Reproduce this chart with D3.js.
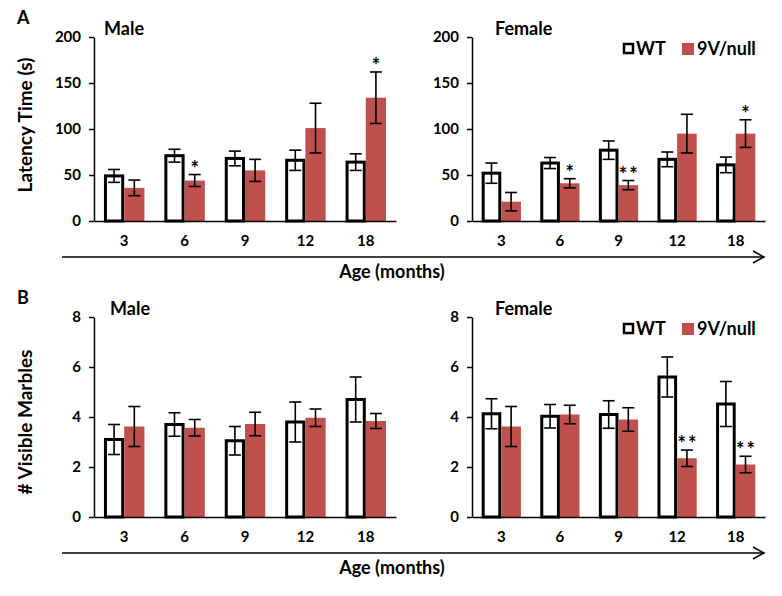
<!DOCTYPE html>
<html>
<head>
<meta charset="utf-8">
<script src="https://cdn.jsdelivr.net/npm/d3@7/dist/d3.min.js"></script>
<style>
  body { margin: 0; background: #fff; }
  text { font-family: Lato, "Open Sans", sans-serif; font-weight: bold; fill: #000; }
</style>
</head>
<body>
<svg id="chart" width="782" height="596"></svg>
<script>
// data
const ages = ['3', '6', '9', '12', '18'];

const latencyMaleWT = [49, 71, 68, 66, 64];
const latencyMaleWTErr = [7, 7, 8, 11, 9];
const latencyMaleMut = [36, 44, 55, 101, 134];
const latencyMaleMutErr = [8.5, 6.5, 12, 27, 28];
const latencyMaleSig = ['', '*', '', '', '*'];

const latencyFemaleWT = [52, 63, 77, 67, 61];
const latencyFemaleWTErr = [11, 6, 10, 8, 8.5];
const latencyFemaleMut = [21, 41, 39, 95, 95];
const latencyFemaleMutErr = [10, 5, 5, 21, 15];
const latencyFemaleSig = ['', '*', '**', '', '*'];

const marblesMaleWT = [3.1, 3.7, 3.05, 3.8, 4.7];
const marblesMaleWTErr = [0.6, 0.47, 0.57, 0.8, 0.9];
const marblesMaleMut = [3.62, 3.57, 3.72, 3.97, 3.84];
const marblesMaleMutErr = [0.8, 0.33, 0.47, 0.35, 0.3];
const marblesMaleSig = ['', '', '', '', ''];

const marblesFemaleWT = [4.13, 4.03, 4.1, 5.6, 4.52];
const marblesFemaleWTErr = [0.6, 0.47, 0.55, 0.8, 0.9];
const marblesFemaleMut = [3.62, 4.1, 3.9, 2.35, 2.1];
const marblesFemaleMutErr = [0.8, 0.37, 0.47, 0.33, 0.33];
const marblesFemaleSig = ['', '', '', '**', '**'];

const latencyTicks = [0, 50, 100, 150, 200];
const marblesTicks = [0, 2, 4, 6, 8];
const series = ['WT', '9V/null'];

const red = '#c0504d';
const svg = d3.select('#chart');

function drawPanel(o) {
    const g = svg.append('g');
    const x0 = d3.scaleBand().domain(ages).range([o.x0, o.x1])
        .paddingInner(0.33).paddingOuter(0.165);
    const x1 = d3.scaleBand().domain(series).range([0, x0.bandwidth()]);
    const y = d3.scaleLinear().domain([0, o.max]).range([o.yBottom, o.yTop]);

    const rows = ages.map((a, i) => ({
        age: a,
        wt: o.wt[i], wtErr: o.wtErr[i],
        mut: o.mut[i], mutErr: o.mutErr[i],
        sig: o.sig[i]
    }));

    const bw = x1.bandwidth();
    // WT bars: white with thick black outline
    g.selectAll('.wt').data(rows).join('rect')
        .attr('x', d => x0(d.age) + 1.5)
        .attr('y', d => y(d.wt))
        .attr('width', bw - 3)
        .attr('height', d => y(0) - y(d.wt))
        .attr('fill', '#fff').attr('stroke', '#000').attr('stroke-width', 3);

    g.selectAll('.mut').data(rows).join('rect')
        .attr('x', d => x0(d.age) + x1('9V/null'))
        .attr('y', d => y(d.mut))
        .attr('width', bw)
        .attr('height', d => y(0) - y(d.mut))
        .attr('fill', red);

    // error bars
    const errs = [];
    rows.forEach(d => {
        errs.push({cx: x0(d.age) + x1('WT') + bw / 2, m: d.wt, e: d.wtErr});
        errs.push({cx: x0(d.age) + x1('9V/null') + bw / 2, m: d.mut, e: d.mutErr});
    });
    const eb = g.selectAll('.err').data(errs).join('g')
        .attr('stroke', '#000').attr('stroke-width', 1.6);
    eb.append('line')
        .attr('x1', d => d.cx).attr('x2', d => d.cx)
        .attr('y1', d => y(d.m - d.e)).attr('y2', d => y(d.m + d.e));
    eb.append('line')
        .attr('x1', d => d.cx - 6).attr('x2', d => d.cx + 6)
        .attr('y1', d => y(d.m + d.e)).attr('y2', d => y(d.m + d.e));
    eb.append('line')
        .attr('x1', d => d.cx - 6).attr('x2', d => d.cx + 6)
        .attr('y1', d => y(d.m - d.e)).attr('y2', d => y(d.m - d.e));

    // significance stars
    g.selectAll('.sig').data(rows.filter(d => d.sig)).join('text')
        .attr('x', d => x0(d.age) + x1('9V/null') + bw / 2 + 1)
        .attr('y', d => y(d.mut + d.mutErr) + 1)
        .attr('text-anchor', 'middle')
        .style('font-size', '20px')
        .style('fill', '#000')
        .style('letter-spacing', '2px')
        .text(d => d.sig);

    // axes
    const ya = g.append('g').attr('transform', `translate(${o.x0},0)`)
        .call(d3.axisLeft(y).tickValues(o.ticks).tickSize(5).tickSizeOuter(0).tickPadding(8));
    ya.selectAll('text').style('font-size', '15px');
    ya.selectAll('line, path').attr('stroke', '#000').attr('stroke-width', 1.5);

    const xa = g.append('g').attr('transform', `translate(0,${o.yBottom})`)
        .call(d3.axisBottom(x0).tickSize(0).tickPadding(14));
    xa.selectAll('text').style('font-size', '15px');
    xa.select('.domain').attr('stroke', '#000').attr('stroke-width', 1.5);

    g.append('text').attr('x', o.titleX).attr('y', o.yTop - 2)
        .style('font-size', '18px').text(o.title);

    if (o.legend) {
        const ly = o.yTop + 12;
        g.append('rect').attr('x', 624).attr('y', ly - 5).attr('width', 9).attr('height', 9)
            .attr('fill', '#fff').attr('stroke', '#000').attr('stroke-width', 2.5);
        g.append('text').attr('x', 636).attr('y', ly + 6).style('font-size', '18px').text('WT');
        g.append('rect').attr('x', 682).attr('y', ly - 6).attr('width', 12).attr('height', 12)
            .attr('fill', red);
        g.append('text').attr('x', 697).attr('y', ly + 6).style('font-size', '18px').text('9V/null');
    }
}

function drawArrow(yPos) {
    svg.append('line').attr('x1', 62).attr('x2', 764).attr('y1', yPos).attr('y2', yPos)
        .attr('stroke', '#000').attr('stroke-width', 1.5);
    svg.append('polyline')
        .attr('points', `753,${yPos - 6} 764,${yPos} 753,${yPos + 6}`)
        .attr('fill', 'none').attr('stroke', '#000').attr('stroke-width', 1.5);
    svg.append('text').attr('x', 392).attr('y', yPos + 21).attr('text-anchor', 'middle')
        .style('font-size', '18px').text('Age (months)');
}

function yTitle(label, cy) {
    svg.append('text').attr('transform', `translate(32,${cy}) rotate(-90)`)
        .attr('text-anchor', 'middle').style('font-size', '19px').text(label);
}

// panel A
drawPanel({x0: 94, x1: 396, yTop: 37, yBottom: 221, max: 200, ticks: latencyTicks,
    wt: latencyMaleWT, wtErr: latencyMaleWTErr, mut: latencyMaleMut, mutErr: latencyMaleMutErr,
    sig: latencyMaleSig, title: 'Male', titleX: 104});
drawPanel({x0: 472, x1: 765, yTop: 37, yBottom: 221, max: 200, ticks: latencyTicks,
    wt: latencyFemaleWT, wtErr: latencyFemaleWTErr, mut: latencyFemaleMut, mutErr: latencyFemaleMutErr,
    sig: latencyFemaleSig, title: 'Female', titleX: 495, legend: true});
drawArrow(257);
yTitle('Latency Time (s)', 125);
svg.append('text').attr('x', 17).attr('y', 24).style('font-size', '18px').text('A');

// panel B
drawPanel({x0: 94, x1: 396, yTop: 317, yBottom: 517, max: 8, ticks: marblesTicks,
    wt: marblesMaleWT, wtErr: marblesMaleWTErr, mut: marblesMaleMut, mutErr: marblesMaleMutErr,
    sig: marblesMaleSig, title: 'Male', titleX: 110});
drawPanel({x0: 472, x1: 765, yTop: 317, yBottom: 517, max: 8, ticks: marblesTicks,
    wt: marblesFemaleWT, wtErr: marblesFemaleWTErr, mut: marblesFemaleMut, mutErr: marblesFemaleMutErr,
    sig: marblesFemaleSig, title: 'Female', titleX: 495, legend: true});
drawArrow(553);
yTitle('# Visible Marbles', 422);
svg.append('text').attr('x', 17).attr('y', 304).style('font-size', '18px').text('B');
</script>
</body>
</html>
